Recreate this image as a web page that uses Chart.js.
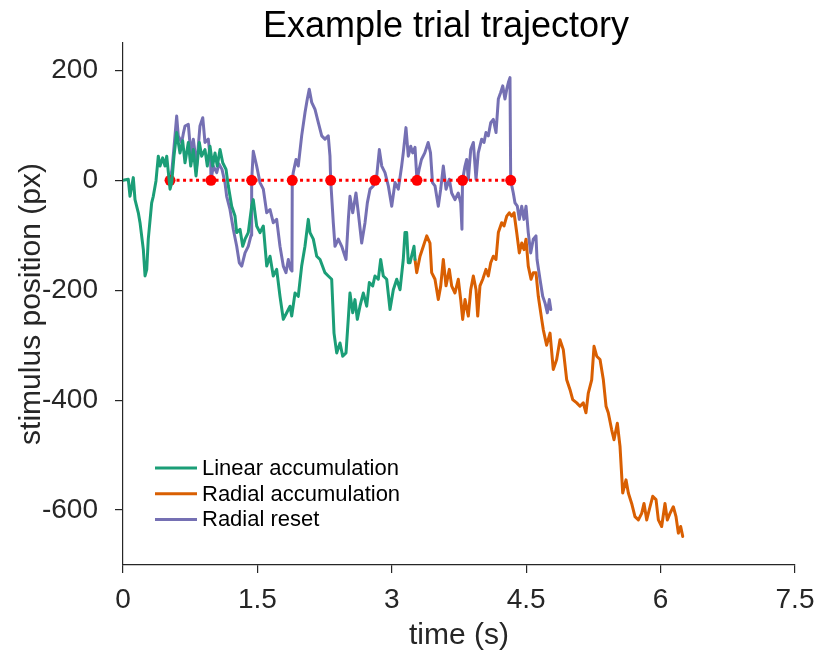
<!DOCTYPE html>
<html>
<head>
<meta charset="utf-8">
<title>Example trial trajectory</title>
<script src="https://cdn.jsdelivr.net/npm/chart.js@4.4.1/dist/chart.umd.min.js"></script>
<style>
  html, body { margin: 0; padding: 0; background: #fff; }
  #trajectory { display: block; }
</style>
</head>
<body>
<canvas id="trajectory" width="815" height="654"></canvas>
<script>
// Linear accumulation (stimulus position vs time)
const linearTime = [
  0, 0.059, 0.078, 0.115, 0.134, 0.171, 0.190, 0.227, 0.246, 0.265, 0.282, 0.320, 0.338, 0.368,
  0.394, 0.413, 0.443, 0.469, 0.488, 0.525, 0.544, 0.569, 0.599, 0.636, 0.666, 0.692, 0.729,
  0.756, 0.785, 0.815, 0.852, 0.878, 0.915, 0.941, 0.971, 1.001, 1.027, 1.052, 1.083, 1.113,
  1.150, 1.175, 1.213, 1.250, 1.269, 1.306, 1.336, 1.362, 1.398, 1.436, 1.454, 1.492, 1.529,
  1.566, 1.604, 1.641, 1.677, 1.715, 1.752, 1.789, 1.827, 1.864, 1.883, 1.920, 1.956, 1.994,
  2.031, 2.068, 2.087, 2.124, 2.162, 2.199, 2.254, 2.291, 2.329, 2.355, 2.385, 2.422, 2.452,
  2.489, 2.514, 2.533, 2.564, 2.589, 2.615, 2.645, 2.682, 2.720, 2.749, 2.787, 2.812, 2.849,
  2.876, 2.905, 2.943, 2.980, 3.017, 3.055, 3.092, 3.128, 3.147, 3.166, 3.184, 3.203, 3.225,
  3.248, 3.259
];
const linearPos = [
  0, 2, -29, 5, -35, -59, -77, -126, -174, -162, -107, -41, -29, -1,
  44, 26, 41, 26, 44, -16, -4, 44, 87, 50, 72, 32, 69,
  26, 56, 8, 69, 44, 56, 26, 62, 26, 50, 26, 56, 32,
  20, -10, -47, -65, -95, -89, -120, -107, -95, -47, -35, -83, -95,
  -83, -156, -138, -174, -162, -211, -253, -241, -229, -247, -205, -211, -156,
  -120, -71, -95, -107, -138, -144, -168, -174, -180, -278, -314, -296, -320,
  -314, -253, -205, -241, -217, -253, -229, -205, -229, -186, -192, -174, -180,
  -144, -174, -180, -235, -199, -180, -199, -144, -95, -95, -150, -150, -135,
  -120, -144
];

// Radial accumulation
const radialTime = [
  3.259, 3.278, 3.315, 3.352, 3.390, 3.426, 3.445, 3.482, 3.519, 3.546, 3.575, 3.605, 3.642,
  3.668, 3.705, 3.742, 3.769, 3.791, 3.817, 3.854, 3.881, 3.910, 3.940, 3.959, 3.984, 4.015,
  4.051, 4.077, 4.104, 4.133, 4.163, 4.189, 4.226, 4.252, 4.283, 4.311, 4.338, 4.364, 4.394,
  4.423, 4.450, 4.475, 4.498, 4.523, 4.554, 4.579, 4.609, 4.635, 4.673, 4.691, 4.728, 4.766,
  4.802, 4.840, 4.877, 4.914, 4.952, 4.989, 5.019, 5.064, 5.100, 5.137, 5.167, 5.193, 5.231,
  5.257, 5.287, 5.324, 5.361, 5.391, 5.416, 5.454, 5.480, 5.517, 5.547, 5.577, 5.614, 5.640,
  5.677, 5.714, 5.752, 5.789, 5.815, 5.845, 5.882, 5.912, 5.949, 5.975, 6.012, 6.049, 6.075,
  6.105, 6.142, 6.172, 6.198, 6.224, 6.247
];
const radialPos = [
  -144, -168, -138, -120, -101, -114, -168, -180, -217, -192, -144, -192, -162,
  -192, -205, -180, -217, -253, -217, -247, -199, -174, -199, -247, -192, -180,
  -162, -174, -150, -138, -144, -95, -77, -83, -65, -59, -65, -59, -95,
  -132, -114, -126, -107, -156, -180, -168, -168, -211, -253, -272, -300, -278,
  -344, -326, -290, -308, -363, -381, -399, -405, -411, -405, -423, -387, -363,
  -302, -320, -326, -363, -411, -423, -454, -472, -442, -484, -569, -545, -569,
  -588, -612, -618, -606, -588, -618, -594, -575, -581, -618, -630, -588, -618,
  -606, -594, -612, -642, -630, -648
];

// Radial reset: jumps back to 0 at every reset
const resetTime = [
  0.525, 0.547, 0.569, 0.599, 0.617, 0.655, 0.673, 0.692, 0.729, 0.756, 0.785, 0.822, 0.859,
  0.890, 0.915, 0.952, 0.979, 0.982, 1.008, 1.046, 1.071, 1.105, 1.138, 1.157, 1.194, 1.231,
  1.269, 1.298, 1.325, 1.362, 1.398, 1.429, 1.436, 1.454, 1.492, 1.529, 1.566, 1.604, 1.641,
  1.677, 1.715, 1.752, 1.789, 1.819, 1.845, 1.871, 1.886, 1.889, 1.900, 1.931, 1.956, 1.994,
  2.031, 2.057, 2.079, 2.106, 2.143, 2.180, 2.218, 2.254, 2.291, 2.310, 2.318, 2.347, 2.366,
  2.403, 2.441, 2.489, 2.515, 2.533, 2.564, 2.600, 2.626, 2.664, 2.701, 2.727, 2.757, 2.794,
  2.812, 2.832, 2.861, 2.888, 2.924, 2.961, 2.999, 3.036, 3.073, 3.110, 3.128, 3.158, 3.184,
  3.211, 3.233, 3.259, 3.281, 3.305, 3.331, 3.368, 3.406, 3.432, 3.454, 3.482, 3.519, 3.546,
  3.575, 3.605, 3.642, 3.668, 3.705, 3.742, 3.769, 3.783, 3.789, 3.817, 3.836, 3.854, 3.881,
  3.910, 3.940, 3.965, 4.003, 4.029, 4.051, 4.077, 4.104, 4.133, 4.163, 4.189, 4.215, 4.238,
  4.263, 4.283, 4.301, 4.319, 4.327, 4.356, 4.375, 4.401, 4.423, 4.450, 4.475, 4.498, 4.523,
  4.550, 4.579, 4.609, 4.621, 4.654, 4.684, 4.710, 4.736, 4.758, 4.775
];
const resetPos = [
  0, 20, 60, 117, 81, 69, 85, 99, 102, 50, 75, 26, 99,
  114, 69, 75, 32, 0, 26, 14, 30, 20, -4, -29, -53, -89,
  -120, -150, -156, -132, -120, -100, 0, 53, 26, -4, -16, -59, -53,
  -77, -71, -120, -156, -168, -144, -162, -165, 0, 14, 38, 26, 81,
  123, 148, 166, 142, 129, 105, 81, 75, 81, 44, 0, -77, -120,
  -107, -120, -144, -71, -29, -59, -23, -59, -114, -77, -41, -16, -10,
  0, 8, 56, 26, 14, -10, -47, -4, -16, 26, 50, 96, 44,
  62, 50, 60, 0, 20, 38, 50, 69, 50, -4, -10, -47, -16,
  26, -16, 2, -23, -35, -23, -41, -89, 0, 26, 38, 2, 56,
  69, 2, 50, 75, 69, 87, 81, 105, 111, 87, 148, 160, 172,
  148, 166, 178, 187, 0, -23, -41, -47, -71, -47, -71, -47, -95,
  -132, -107, -101, -144, -180, -211, -223, -241, -217, -235
];

// Reset events
const resetEventTime = [0.525, 0.982, 1.436, 1.889, 2.318, 2.812, 3.281, 3.789, 4.327];
const resetEventPos = [0, 0, 0, 0, 0, 0, 0, 0, 0];

const xTicks = [0, 1.5, 3, 4.5, 6, 7.5];
const yTicks = [200, 0, -200, -400, -600];

const seriesNames = ['Linear accumulation', 'Radial accumulation', 'Radial reset'];
const seriesColors = ['#1b9e77', '#d95f02', '#7570b3'];

const FONT = '"Liberation Sans", Arial, Helvetica, sans-serif';
const INK = '#262626';

const toPoints = (ts, vs) => ts.map((t, i) => ({ x: t, y: vs[i] }));

const lineStyle = (color) => ({
  borderColor: color,
  backgroundColor: color,
  borderWidth: 3,
  borderJoinStyle: 'round',
  borderCapStyle: 'round',
  pointRadius: 0,
  showLine: true,
  tension: 0,
  fill: false
});

// title above the plot
const titlePlugin = {
  id: 'plotTitle',
  afterDraw(chart) {
    const { ctx, chartArea } = chart;
    ctx.save();
    ctx.fillStyle = '#000';
    ctx.font = '36px ' + FONT;
    ctx.textAlign = 'center';
    ctx.textBaseline = 'alphabetic';
    ctx.fillText('Example trial trajectory', (chartArea.left + chartArea.right) / 2 - 13, chartArea.top - 6);
    ctx.restore();
  }
};

// legend drawn inside the lower-left corner of the axes
const innerLegend = {
  id: 'innerLegend',
  afterDraw(chart) {
    const { ctx, chartArea } = chart;
    const x0 = chartArea.left + 32;
    const y0 = chartArea.top + 425;
    ctx.save();
    ctx.font = '22px ' + FONT;
    ctx.textBaseline = 'middle';
    ctx.textAlign = 'left';
    seriesNames.forEach((name, i) => {
      const y = y0 + i * 25.7;
      ctx.strokeStyle = seriesColors[i];
      ctx.lineWidth = 3;
      ctx.beginPath();
      ctx.moveTo(x0, y);
      ctx.lineTo(x0 + 42, y);
      ctx.stroke();
      ctx.fillStyle = '#000';
      ctx.fillText(name, x0 + 47, y + 1);
    });
    ctx.restore();
  }
};

const ctx = document.getElementById('trajectory');
const trajectoryChart = new Chart(ctx, {
  type: 'scatter',
  data: {
    datasets: [
      { label: seriesNames[0], data: toPoints(linearTime, linearPos), order: 0, ...lineStyle(seriesColors[0]) },
      { label: seriesNames[1], data: toPoints(radialTime, radialPos), order: 1, ...lineStyle(seriesColors[1]) },
      {
        label: 'reset',
        data: toPoints(resetEventTime, resetEventPos),
        order: 2,
        showLine: true,
        borderColor: '#ff0000',
        borderWidth: 3,
        borderDash: [3, 3.5],
        pointRadius: 5.5,
        pointBackgroundColor: '#ff0000',
        pointBorderWidth: 0
      },
      { label: seriesNames[2], data: toPoints(resetTime, resetPos), order: 3, ...lineStyle(seriesColors[2]) }
    ]
  },
  options: {
    responsive: false,
    animation: false,
    layout: { padding: { top: 43, right: 20, bottom: 0, left: 0 } },
    plugins: {
      legend: { display: false },
      tooltip: { enabled: false },
      title: { display: false }
    },
    scales: {
      x: {
        type: 'linear',
        min: 0,
        max: 7.5,
        afterBuildTicks: (scale) => { scale.ticks = xTicks.map((v) => ({ value: v })); },
        afterFit: (scale) => {
          scale.height = 89;
          scale.paddingLeft = 0;
          scale.paddingRight = 0;
        },
        grid: { drawOnChartArea: false, tickLength: 8, color: INK, lineWidth: 1.2 },
        border: { display: true, color: INK, width: 1.2 },
        ticks: {
          color: INK,
          font: { family: FONT, size: 28 },
          padding: 10,
          maxRotation: 0,
          autoSkip: false,
          callback: (v) => String(v)
        },
        title: {
          display: true,
          text: 'time (s)',
          color: INK,
          font: { family: FONT, size: 30 },
          padding: { top: 0, bottom: 0 }
        }
      },
      y: {
        type: 'linear',
        min: -700,
        max: 250,
        afterBuildTicks: (scale) => { scale.ticks = yTicks.map((v) => ({ value: v })); },
        afterFit: (scale) => {
          scale.width = 123;
          scale.paddingTop = 0;
          scale.paddingBottom = 0;
        },
        grid: { drawOnChartArea: false, tickLength: 8, color: INK, lineWidth: 1.2 },
        border: { display: true, color: INK, width: 1.2 },
        ticks: {
          color: INK,
          font: { family: FONT, size: 28 },
          padding: 17,
          autoSkip: false,
          callback: (v) => String(v)
        },
        title: {
          display: true,
          text: 'stimulus position (px)',
          color: INK,
          font: { family: FONT, size: 30 },
          padding: { top: 14, bottom: 0 }
        }
      }
    }
  },
  plugins: [titlePlugin, innerLegend]
});
</script>
</body>
</html>
